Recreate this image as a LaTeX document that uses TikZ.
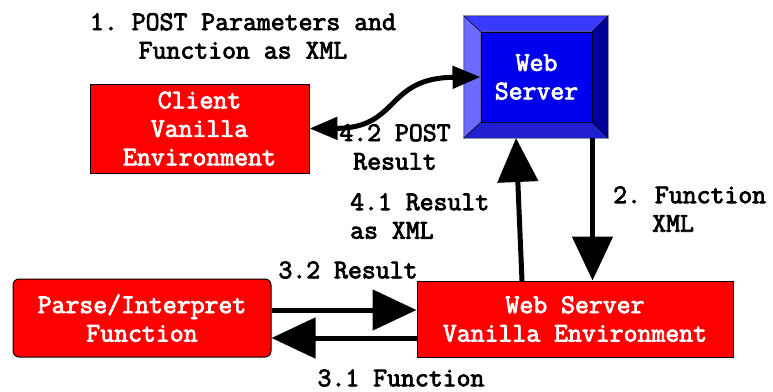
\documentclass[tikz,border=0pt]{standalone}
\usepackage{fontspec}
\setmonofont{Latin Modern Mono}[AutoFakeBold=3]
\usepackage{tikz}
\usetikzlibrary{arrows.meta}

\definecolor{wsface}{HTML}{0000EE}
\definecolor{wsleft}{HTML}{6B6BFF}
\definecolor{wstop}{HTML}{3A3AFF}
\definecolor{wsright}{HTML}{00009A}
\definecolor{wsbottom}{HTML}{2020D0}

\begin{document}
\begin{tikzpicture}[x=1pt,y=-1pt,
    font=\ttfamily\bfseries\fontsize{27}{28.5}\selectfont,
    >={Triangle[length=44pt,width=40pt]},
    box/.style={draw=black,line width=1pt,fill=red,text=white,align=center,inner sep=0pt},
    lbl/.style={inner sep=0pt,align=center},
    flow/.style={->,line width=5pt}]
    \useasboundingbox (0,0) rectangle (773,391);
    % boxes
    \node[box,minimum width=219pt,minimum height=89pt] (cl) at (199.5,128.5) {Client\\Vanilla\\Environment};
    \node[minimum width=144pt,minimum height=122pt,inner sep=0pt] (wsout) at (536,77) {};
    \node[box,fill=wsface,minimum width=111pt,minimum height=90pt] (ws) at (536.5,77) {Web\\Server};
    \node[box,rounded corners=6pt,minimum width=258pt,minimum height=78pt] (pf) at (142,318) {Parse/Interpret\\Function};
    \node[box,minimum width=316pt,minimum height=76pt] (vw) at (575,319) {Web Server\\Vanilla Environment};
    % bevel of the web server
    \draw[fill=wsleft] (wsout.north west) -- (ws.north west) -- (ws.south west) -- (wsout.south west) -- cycle;
    \draw[fill=wstop] (wsout.north west) -- (ws.north west) -- (ws.north east) -- (wsout.north east) -- cycle;
    \draw[fill=wsright] (wsout.north east) -- (ws.north east) -- (ws.south east) -- (wsout.south east) -- cycle;
    \draw[fill=wsbottom] (wsout.south west) -- (ws.south west) -- (ws.south east) -- (wsout.south east) -- cycle;
    % connectors
    \draw[line width=5pt,{Triangle[length=28pt,width=22pt]}-{Triangle[length=28pt,width=22pt]}]
        (cl.east) .. controls (400,128) and (385,78) .. (ws.west);
    \draw[flow] (ws.east |- wsout.south) -- (ws.east |- vw.north);
    \coordinate (upfoot) at (522,281);
    \coordinate (uptip) at (516,138);
    \draw[flow] (upfoot) -- (uptip);
    \draw[flow] ([yshift=8pt]pf.east) -- ([yshift=8pt]pf.east -| vw.west);
    \draw[flow] ([yshift=-19pt]vw.west) -- ([yshift=-19pt]vw.west -| pf.east);
    % labels
    \node[lbl] (l1) at (243,36) {1. POST Parameters and\\Function as XML};
    \node[lbl] (l42) at (395,147) {4.2 POST\\Result};
    \node[lbl,align=left,anchor=west] (l41) at (350,216) {4.1 Result\\as XML};
    \node[lbl,align=left,anchor=west] (l2) at (613,209) {2. Function\\\hspace*{39pt}XML};
    \node[lbl] (l32) at (348,270) {3.2 Result};
    \node[lbl] (l31) at (401,378) {3.1 Function};
\end{tikzpicture}
\end{document}
